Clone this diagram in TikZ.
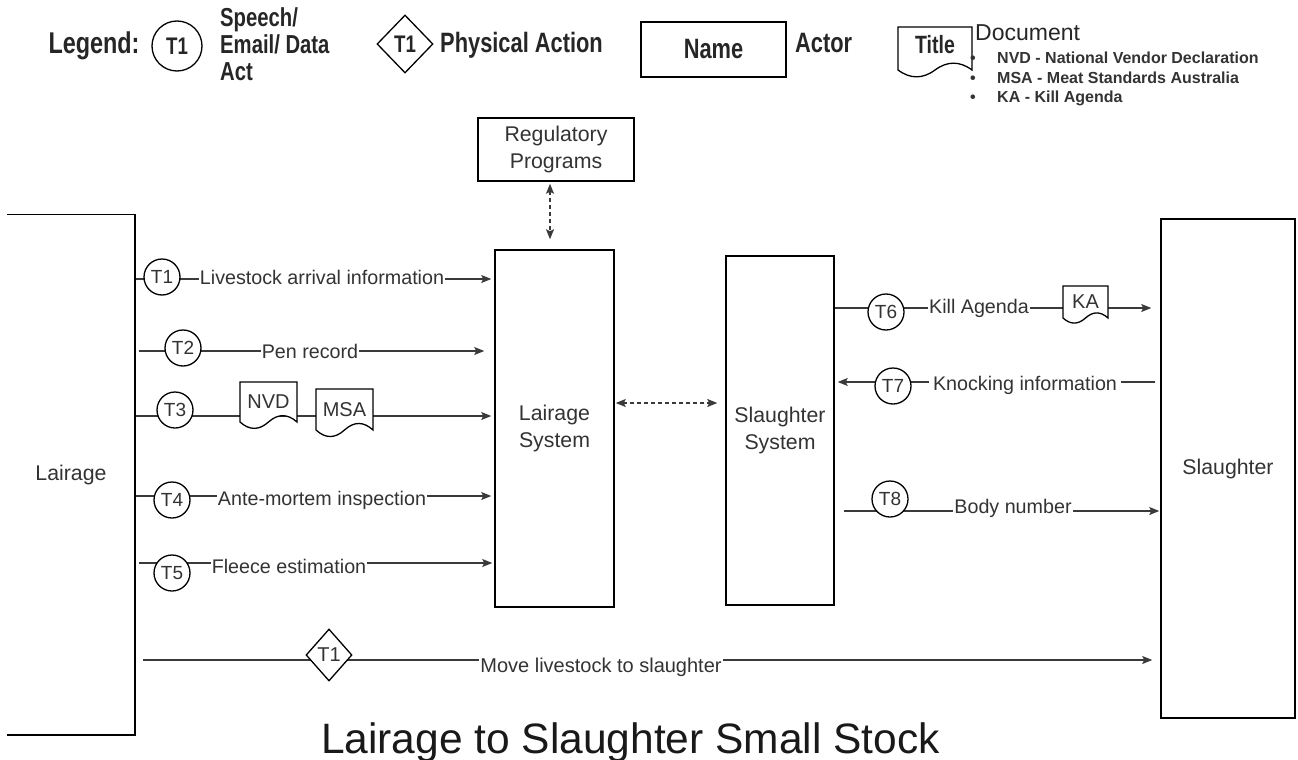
\documentclass[tikz,border=0pt]{standalone}
\usepackage{fontspec}
\setmainfont{Liberation Sans}
\newfontfamily\narrowf{Liberation Sans}[FakeStretch=0.78]
\usetikzlibrary{arrows.meta,shapes.geometric,calc}
\pgfdeclarelayer{bg}
\pgfsetlayers{bg,main}
\definecolor{ink}{HTML}{333333}
\definecolor{lineg}{HTML}{3a3a3a}
\tikzset{
  box/.style={draw=black, line width=1.5pt, rectangle, inner sep=0pt, align=center,
    font=\fontsize{21.3}{26.5}\selectfont, text=ink},
  tip/.tip={Stealth[length=10pt,width=8pt,inset=2pt]},
  flow/.style={draw=lineg, line width=1.2pt, -tip},
  dasharr/.style={draw=lineg, line width=1.3pt, dash pattern=on 4pt off 3pt, tip-tip},
  tcirc/.style={circle, draw=black, line width=1.3pt, fill=white, minimum size=36pt,
    inner sep=0pt, font=\fontsize{19}{19}\selectfont, text=ink},
  lbl/.style={fill=white, inner sep=1pt, font=\fontsize{19.7}{23}\selectfont, text=ink},
  doctext/.style={rectangle, inner sep=0pt, font=\fontsize{20}{20}\selectfont, text=ink},
  docline/.style={draw=black, line width=1.3pt, fill=white},
  legf/.style={font=\narrowf\bfseries\fontsize{28}{25}\selectfont, text=black!85, inner sep=0pt},
  pics/docshape/.style 2 args={code={
    \draw[docline] ({-#1/2},{-#2/2}) -- ({#1/2},{-#2/2}) -- ({#1/2},{#2/2})
      .. controls ({#1/3},{0.288*#2}) and ({#1/6},{0.288*#2}) .. (0,{#2/2})
      .. controls ({-#1/6},{0.712*#2}) and ({-#1/3},{0.712*#2}) .. ({-#1/2},{#2/2}) -- cycle;
  }},
}
\begin{document}
\begin{tikzpicture}[x=1pt,y=-1pt]
\useasboundingbox (0,0) rectangle (1298,760);

% ---------- Legend ----------
\node[legf, font=\narrowf\bfseries\fontsize{30}{30}\selectfont] (legt) at (94,46) {Legend:};
\node[circle, draw=black, line width=1.3pt, minimum size=50pt, inner sep=0pt,
  font=\narrowf\bfseries\fontsize{24}{24}\selectfont, text=black!85] (legc) at (177,46) {T1};
\node[legf, anchor=west, align=left, font=\narrowf\bfseries\fontsize{26}{27}\selectfont] (legs) at (220,44) {Speech/\\Email/ Data\\Act};
\node[diamond, draw=black, line width=1.3pt, minimum width=56pt, minimum height=58pt, inner sep=0pt,
  font=\narrowf\bfseries\fontsize{24}{24}\selectfont, text=black!85] (legd) at (405,44) {T1};
\node[legf, anchor=west] (legp) at (440,45) {Physical Action};
\node[draw=black, line width=1.5pt, minimum width=145pt, minimum height=55pt, legf] (legn) at (713.5,49.5) {Name};
\node[legf, anchor=west] (lega) at (795,43) {Actor};
\pic at (935,48.5) {docshape={74}{43}};
\node[legf, font=\narrowf\bfseries\fontsize{25}{25}\selectfont] (legdoc) at (935,45) {Title};
\node[anchor=west, inner sep=0pt, font=\fontsize{23}{23}\selectfont, text=black!85] (legdt) at (975,33) {Document};
\node[anchor=west, align=left, inner sep=0pt, font=\bfseries\fontsize{16}{19.3}\selectfont, text=black!80] (legl) at (970,79)
  {\makebox[27pt][l]{\textbullet}NVD - National Vendor Declaration\\
   \makebox[27pt][l]{\textbullet}MSA - Meat Standards Australia\\
   \makebox[27pt][l]{\textbullet}KA - Kill Agenda};

% ---------- Actors / systems ----------
\node[box, draw=none, minimum width=126pt, minimum height=519pt] (lair) at (71,474.5) {Lairage};
\draw[black, line width=1.5pt] (lair.north west) -- (lair.north east) -- (lair.south east) -- (lair.south west);
\node[box, minimum width=134pt, minimum height=499pt] (slau) at (1228,468.5) {Slaughter};
\node[box, minimum width=119pt, minimum height=357pt] (lsys) at (554.5,428.5) {Lairage\\System};
\node[box, minimum width=108pt, minimum height=349pt] (ssys) at (780,430.5) {Slaughter\\System};
\node[box, minimum width=156pt, minimum height=63pt] (reg) at (556,149.5) {Regulatory\\Programs};

% lane coordinates
\coordinate (y1) at (0,279);
\coordinate (y2) at (0,351);
\coordinate (y3) at (0,416);
\coordinate (y4) at (0,496);
\coordinate (y5) at (0,563);
\coordinate (y6) at (0,308);
\coordinate (y7) at (0,382);
\coordinate (y8) at (0,511);
\coordinate (ym) at (0,660);
\coordinate (yd) at (0,403);
\coordinate (xv) at (550,0);

% ---------- Connectors (background) ----------
\begin{pgfonlayer}{bg}
\draw[flow, shorten >=3pt] (lair.east |- y1) -- (lsys.west |- y1);
\draw[flow, shorten <=4pt, shorten >=10pt] (lair.east |- y2) -- (lsys.west |- y2);
\draw[flow, shorten >=3pt] (lair.east |- y3) -- (lsys.west |- y3);
\draw[flow, shorten >=3pt] (lair.east |- y4) -- (lsys.west |- y4);
\draw[flow, shorten <=4pt, shorten >=2pt] (lair.east |- y5) -- (lsys.west |- y5);
\draw[flow, shorten >=9pt] (ssys.east |- y6) -- (slau.west |- y6);
\draw[flow, shorten <=5pt, shorten >=3pt] (slau.west |- y7) -- (ssys.east |- y7);
\draw[flow, shorten <=9pt, shorten >=1pt] (ssys.east |- y8) -- (slau.west |- y8);
\draw[flow, shorten <=8pt, shorten >=8pt] (lair.east |- ym) -- (slau.west |- ym);
\draw[dasharr, shorten <=2pt, shorten >=10pt] (reg.south -| xv) -- (lsys.north -| xv);
\draw[dasharr, shorten <=1pt, shorten >=8pt] (lsys.east |- yd) -- (ssys.west |- yd);
\end{pgfonlayer}

% ---------- Transaction markers ----------
\node[tcirc] (t1) at (162,277) {T1};
\node[tcirc] (t2) at (183,348) {T2};
\node[tcirc] (t3) at (175,410) {T3};
\node[tcirc] (t4) at (172,500) {T4};
\node[tcirc] (t5) at (172,573) {T5};
\node[tcirc] (t6) at (886,312) {T6};
\node[tcirc] (t7) at (893,386) {T7};
\node[tcirc] (t8) at (890,499) {T8};
\node[diamond, draw=black, line width=1.3pt, fill=white, minimum width=46pt, minimum height=52pt,
  inner sep=0pt, font=\fontsize{20}{20}\selectfont, text=ink] (dm) at (329,655) {T1};

% ---------- Documents ----------
\pic at (268.5,402) {docshape={57}{40}};
\node[doctext, minimum width=57pt, minimum height=40pt] (nvd) at (268.5,402) {NVD};
\pic at (344.5,409.5) {docshape={57}{41}};
\node[doctext, minimum width=57pt, minimum height=41pt] (msa) at (344.5,409.5) {MSA};
\pic at (1085.5,302) {docshape={45}{32}};
\node[doctext, minimum width=45pt, minimum height=32pt] (ka) at (1085.5,302) {KA};

% ---------- Labels ----------
\node[lbl] (l1) at (322,277) {Livestock arrival information};
\node[lbl] (l2) at (310,351) {Pen record};
\node[lbl] (l4) at (322,500) {Ante-mortem inspection};
\node[lbl] (l5) at (289,566) {Fleece estimation};
\node[lbl] (l6) at (979,308) {Kill Agenda};
\node[lbl, inner xsep=4pt] (l7) at (1025,385) {Knocking information};
\node[lbl] (l8) at (1013,508) {Body number};
\node[lbl, font=\fontsize{20}{23}\selectfont] (lm) at (601,667) {Move livestock to slaughter};

% ---------- Title ----------
\node[anchor=base, inner sep=0pt, font=\fontsize{42.5}{50}\selectfont, text=black!90] (title) at (630.5,753)
  {Lairage to Slaughter Small Stock};
\end{tikzpicture}
\end{document}
